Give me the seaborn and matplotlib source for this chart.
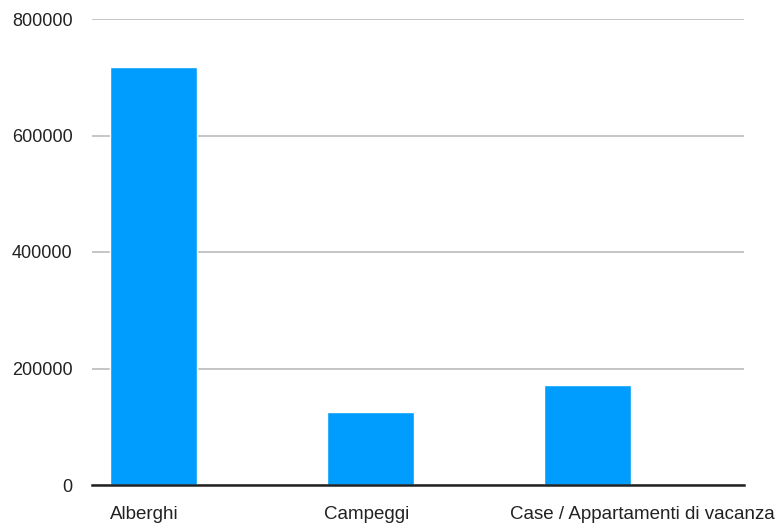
import matplotlib
matplotlib.use('Agg')
import matplotlib.pyplot as plt
import seaborn as sns
import pandas as pd

# Data
categories = ['Alberghi', 'Campeggi', 'Case / Appartamenti di vacanza']
values = [717600, 125300, 171700]
yticks = [0, 200000, 400000, 600000, 800000]

df = pd.DataFrame({'tipo': categories, 'valore': values})

sns.set_style('white')
plt.rcParams['font.family'] = ['Liberation Sans', 'DejaVu Sans']

fig = plt.figure(figsize=(7.84, 5.25), dpi=100)
ax = fig.add_axes([92 / 784, 1 - 485 / 525, (744 - 92) / 784, (485 - 19) / 525])

sns.barplot(data=df, x='tipo', y='valore', color='#009dff', saturation=1,
            width=0.4, ax=ax, zorder=3)

ax.set_xlim(-0.283, 2.721)
ax.set_ylim(0, 800000)
ax.set_yticks(yticks)
ax.set_yticklabels([str(v) for v in yticks], fontsize=13, color='#222222')
ax.yaxis.grid(True, color='#bbbbbb', linewidth=1.2, zorder=0)
ax.tick_params(axis='y', length=0, pad=14)

# labels centred under the bars; the long last one is pushed left to fit
ax.set_xticks([-0.04, 0.98, 2.254])
ax.set_xticklabels(categories, fontsize=13.5, color='#222222', ha='center')
ax.tick_params(axis='x', length=0, pad=15)

ax.set_xlabel('')
ax.set_ylabel('')
for s in ['top', 'right', 'left']:
    ax.spines[s].set_visible(False)
ax.spines['bottom'].set_color('#222222')
ax.spines['bottom'].set_linewidth(1.8)
ax.spines['bottom'].set_zorder(4)

fig.savefig('out.png', dpi=100)
